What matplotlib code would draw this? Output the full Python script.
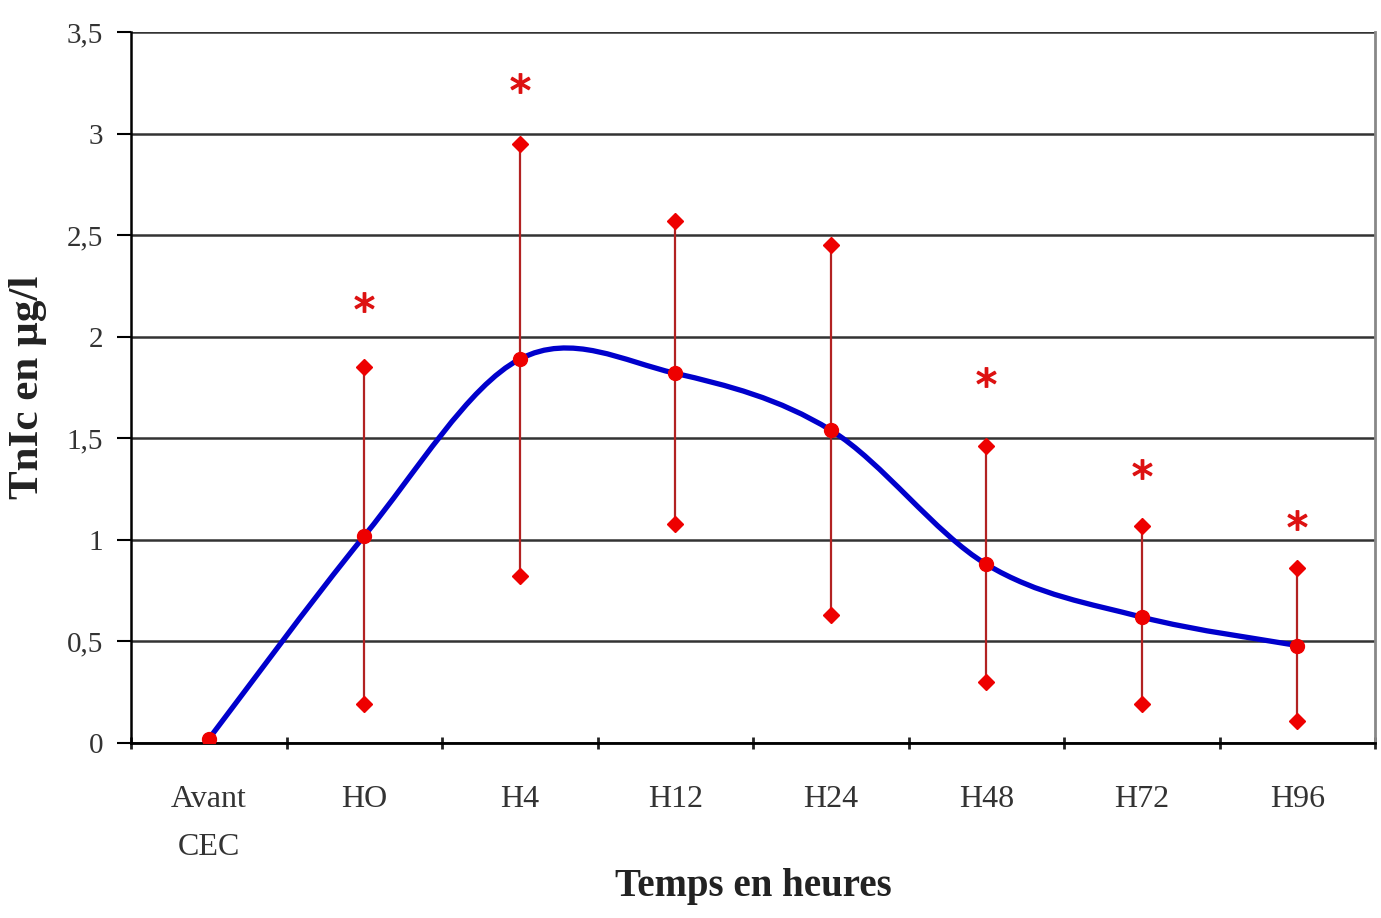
import matplotlib
matplotlib.use("Agg")
import matplotlib.pyplot as plt
from matplotlib.path import Path
from matplotlib.patches import PathPatch
from matplotlib.ticker import FuncFormatter
import numpy as np

categories = ["Avant\nCEC", "HO", "H4", "H12", "H24", "H48", "H72", "H96"]
mean_vals = [0.02, 1.02, 1.89, 1.82, 1.54, 0.88, 0.62, 0.48]
max_vals = [None, 1.85, 2.95, 2.57, 2.45, 1.46, 1.07, 0.86]
min_vals = [None, 0.19, 0.82, 1.08, 0.63, 0.30, 0.19, 0.11]
star_y = [None, 2.17, 3.25, None, None, 1.80, 1.35, 1.10]

plt.rcParams['font.family'] = ['Liberation Serif', 'DejaVu Serif']

fig = plt.figure(figsize=(13.81, 9.18), dpi=100)
ax = fig.add_axes([0.0949, 0.1906, 0.9008, 0.7745])

x = np.arange(len(categories))

# smoothed blue line (Excel-style bezier through the means)
pts = list(zip(x, mean_vals))
verts = [pts[0]]
codes = [Path.MOVETO]
n = len(pts)
for i in range(n - 1):
    p0 = pts[i - 1] if i > 0 else pts[i]
    p1 = pts[i]
    p2 = pts[i + 1]
    p3 = pts[i + 2] if i + 2 < n else pts[i + 1]
    c1 = (p1[0] + (p2[0] - p0[0]) / 6, p1[1] + (p2[1] - p0[1]) / 6)
    c2 = (p2[0] - (p3[0] - p1[0]) / 6, p2[1] - (p3[1] - p1[1]) / 6)
    verts += [c1, c2, p2]
    codes += [Path.CURVE4] * 3
ax.add_patch(PathPatch(Path(verts, codes), facecolor='none', edgecolor='#0000cc',
                       lw=3.8, zorder=3))

# ranges
for i in range(len(categories)):
    if max_vals[i] is not None:
        ax.plot([x[i], x[i]], [min_vals[i], max_vals[i]], color='#b22222', lw=1.6, zorder=4)
        ax.plot([x[i], x[i]], [min_vals[i], max_vals[i]], ls='none', marker='D',
                ms=8, color='#ee0000', zorder=5)
    if star_y[i] is not None:
        ax.plot(x[i], star_y[i], ls='none', marker='$*$', ms=14, color='#dd1111', zorder=6)
ax.plot(x, mean_vals, ls='none', marker='o', ms=10, color='#ee0000', zorder=5)

ax.set_xlim(-0.5, len(categories) - 0.5)
ax.set_ylim(0, 3.5)
ax.set_yticks(np.arange(0, 3.51, 0.5))
ax.yaxis.set_major_formatter(FuncFormatter(lambda v, p: ('%g' % v).replace('.', ',')))
ax.yaxis.grid(True, color='#333333', lw=1.8)
ax.set_axisbelow(True)

ax.set_xticks(x)
ax.set_xticklabels(categories, fontsize=23, color='#333333', linespacing=1.9)
ax.set_xticks(np.arange(-0.5, len(categories)), minor=True)
ax.tick_params(axis='x', which='major', length=0, pad=30)
ax.tick_params(axis='x', which='minor', length=9, width=2, direction='inout', color='#222222')
ax.tick_params(axis='y', length=10, width=1.5, labelsize=21, labelcolor='#333333', pad=10)

ax.spines['top'].set_visible(False)
ax.spines['right'].set_color('#888888')
ax.spines['right'].set_linewidth(2)
ax.spines['left'].set_linewidth(1.8)
ax.spines['bottom'].set_linewidth(2)

ax.set_xlabel('Temps en heures', fontsize=28, fontweight='bold', color='#222222', labelpad=4)
ax.set_ylabel('TnIc en µg/l', fontsize=31, fontweight='bold', color='#222222', labelpad=14)

plt.savefig("out.png", dpi=100)
